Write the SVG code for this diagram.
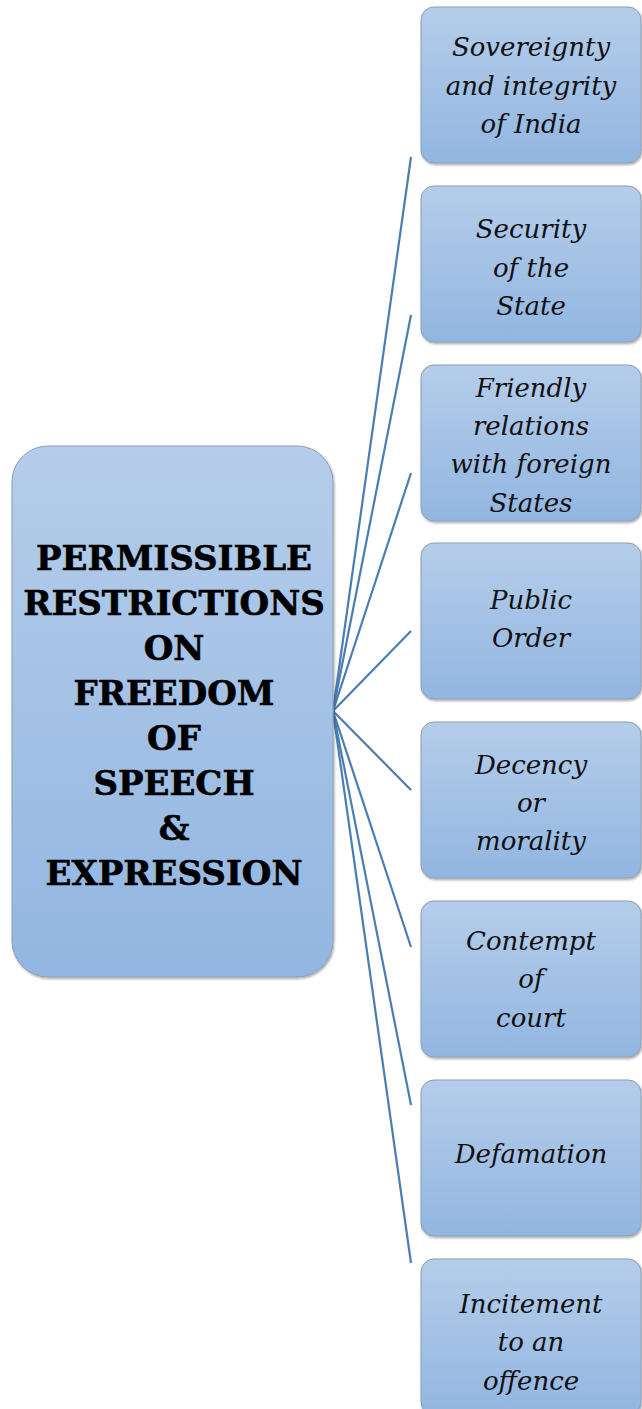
<svg xmlns="http://www.w3.org/2000/svg" width="642" height="1409" viewBox="0 0 642 1409">
<defs>
<linearGradient id="g" x1="0" y1="0" x2="0" y2="1">
<stop offset="0" stop-color="#b5cdea"/>
<stop offset="1" stop-color="#92b6e1"/>
</linearGradient>
<filter id="sh" x="-5%" y="-5%" width="110%" height="110%">
<feDropShadow dx="1" dy="1.5" stdDeviation="1.2" flood-color="#000" flood-opacity="0.35"/>
</filter>
</defs>
<style>
.box{fill:url(#g);stroke:#8d9fb3;stroke-width:1;filter:url(#sh)}
.lbl{font-family:"DejaVu Serif",serif;font-style:italic;font-size:26px;fill:#111;text-anchor:middle}
.main{font-family:"DejaVu Serif",serif;font-weight:bold;font-size:34px;fill:#000;text-anchor:middle;stroke:#000;stroke-width:0.6}
.con{stroke:#4a7db4;stroke-width:2.2;fill:none}
</style>
<rect width="642" height="1409" fill="#fff"/>
<g id="connectors">
<line class="con" x1="333" y1="711" x2="411" y2="157"/>
<line class="con" x1="333" y1="711" x2="411" y2="315"/>
<line class="con" x1="333" y1="711" x2="411" y2="473"/>
<line class="con" x1="333" y1="711" x2="411" y2="631"/>
<line class="con" x1="333" y1="711" x2="411" y2="790"/>
<line class="con" x1="333" y1="711" x2="411" y2="947"/>
<line class="con" x1="333" y1="711" x2="411" y2="1105"/>
<line class="con" x1="333" y1="711" x2="411" y2="1263"/>
</g>
<g id="main">
<rect class="box" x="12" y="446" width="321" height="531" rx="36"/>
<text class="main" x="174" y="570">PERMISSIBLE</text>
<text class="main" x="174" y="615">RESTRICTIONS</text>
<text class="main" x="174" y="660">ON</text>
<text class="main" x="174" y="705">FREEDOM</text>
<text class="main" x="174" y="750">OF</text>
<text class="main" x="174" y="795">SPEECH</text>
<text class="main" x="174" y="840">&amp;</text>
<text class="main" x="174" y="885">EXPRESSION</text>
</g>
<g id="n1">
<rect class="box" x="421" y="7" width="220" height="156" rx="13"/>
<text class="lbl" x="531" y="56">Sovereignty</text>
<text class="lbl" x="531" y="95">and integrity</text>
<text class="lbl" x="531" y="133">of India</text>
</g>
<g id="n2">
<rect class="box" x="421" y="186" width="220" height="156" rx="13"/>
<text class="lbl" x="531" y="238">Security</text>
<text class="lbl" x="531" y="277">of the</text>
<text class="lbl" x="531" y="315">State</text>
</g>
<g id="n3">
<rect class="box" x="421" y="365" width="220" height="156" rx="13"/>
<text class="lbl" x="531" y="397">Friendly</text>
<text class="lbl" x="531" y="435">relations</text>
<text class="lbl" x="531" y="473">with foreign</text>
<text class="lbl" x="531" y="512">States</text>
</g>
<g id="n4">
<rect class="box" x="421" y="543" width="220" height="156" rx="13"/>
<text class="lbl" x="531" y="609">Public</text>
<text class="lbl" x="531" y="647">Order</text>
</g>
<g id="n5">
<rect class="box" x="421" y="722" width="220" height="156" rx="13"/>
<text class="lbl" x="531" y="774">Decency</text>
<text class="lbl" x="531" y="812">or</text>
<text class="lbl" x="531" y="850">morality</text>
</g>
<g id="n6">
<rect class="box" x="421" y="901" width="220" height="156" rx="13"/>
<text class="lbl" x="531" y="950">Contempt</text>
<text class="lbl" x="531" y="988">of</text>
<text class="lbl" x="531" y="1027">court</text>
</g>
<g id="n7">
<rect class="box" x="421" y="1080" width="220" height="156" rx="13"/>
<text class="lbl" x="531" y="1163">Defamation</text>
</g>
<g id="n8">
<rect class="box" x="421" y="1259" width="220" height="156" rx="13"/>
<text class="lbl" x="531" y="1313">Incitement</text>
<text class="lbl" x="531" y="1351">to an</text>
<text class="lbl" x="531" y="1390">offence</text>
</g>
</svg>
